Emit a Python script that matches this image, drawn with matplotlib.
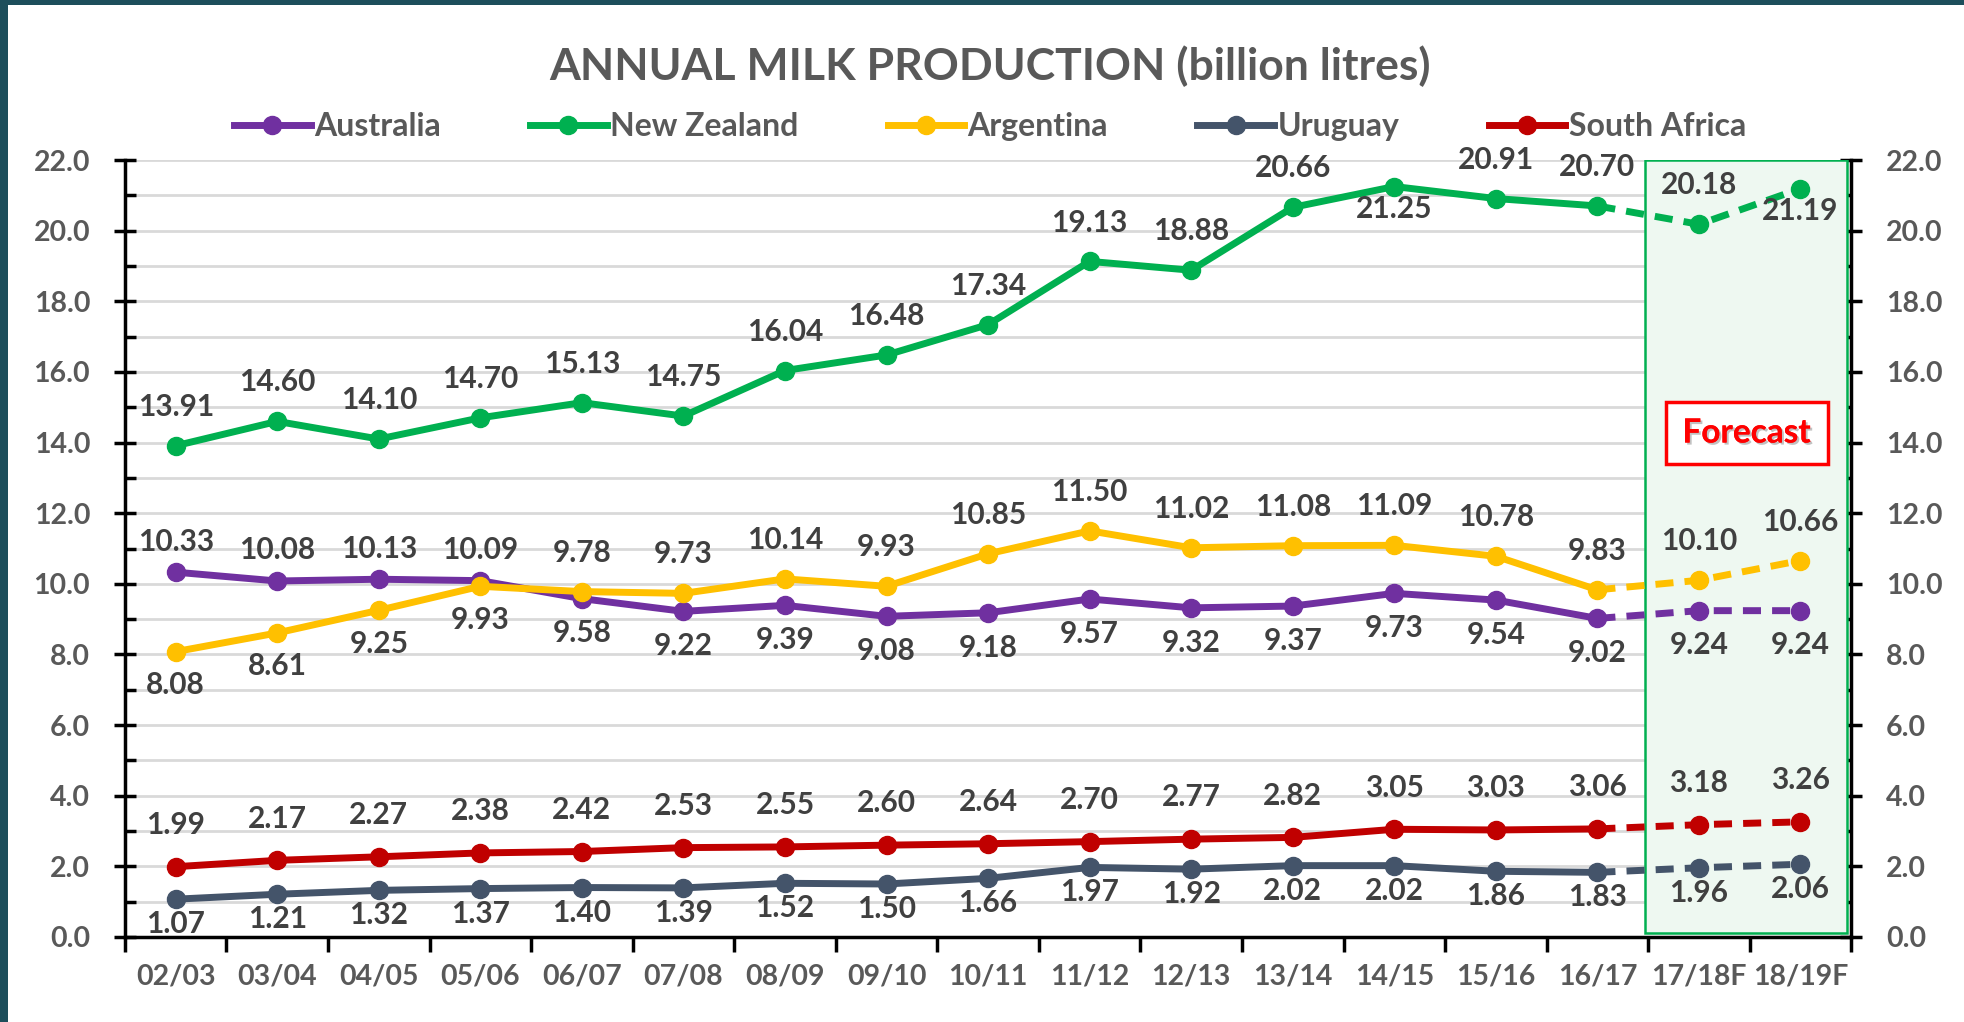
import matplotlib
matplotlib.use('Agg')
import matplotlib.pyplot as plt
from matplotlib.patches import Rectangle
from matplotlib.lines import Line2D
import matplotlib.patheffects as pe

plt.rcParams['font.family'] = ['Lato', 'DejaVu Sans']

seasons = ['02/03', '03/04', '04/05', '05/06', '06/07', '07/08', '08/09', '09/10',
           '10/11', '11/12', '12/13', '13/14', '14/15', '15/16', '16/17', '17/18F', '18/19F']

australia = [10.33, 10.08, 10.13, 10.09, 9.58, 9.22, 9.39, 9.08, 9.18, 9.57, 9.32,
             9.37, 9.73, 9.54, 9.02, 9.24, 9.24]
new_zealand = [13.91, 14.60, 14.10, 14.70, 15.13, 14.75, 16.04, 16.48, 17.34, 19.13,
               18.88, 20.66, 21.25, 20.91, 20.70, 20.18, 21.19]
argentina = [8.08, 8.61, 9.25, 9.93, 9.78, 9.73, 10.14, 9.93, 10.85, 11.50, 11.02,
             11.08, 11.09, 10.78, 9.83, 10.10, 10.66]
uruguay = [1.07, 1.21, 1.32, 1.37, 1.40, 1.39, 1.52, 1.50, 1.66, 1.97, 1.92, 2.02,
           2.02, 1.86, 1.83, 1.96, 2.06]
south_africa = [1.99, 2.17, 2.27, 2.38, 2.42, 2.53, 2.55, 2.60, 2.64, 2.70, 2.77,
                2.82, 3.05, 3.03, 3.06, 3.18, 3.26]

# label side for each point: 1 above, -1 below
aus_side = [1, 1, 1, 1] + [-1] * 13
nz_side = [1] * 12 + [-1] + [1] * 3 + [-1]
arg_side = [-1, -1, -1, -1] + [1] * 13
uru_side = [-1] * 17
sa_side = [1] * 17

# name, values, colour, sides, (offset above, offset below) in points
series = [
    ('Australia', australia, '#7030A0', aus_side, (22, 25)),
    ('New Zealand', new_zealand, '#00B050', nz_side, (28, 16)),
    ('Argentina', argentina, '#FFC000', arg_side, (28, 24)),
    ('Uruguay', uruguay, '#44546A', uru_side, (20, 18)),
    ('South Africa', south_africa, '#C00000', sa_side, (30, 25)),
]

n_actual = 15  # last actual season is 16/17
gray = '#595959'
label_col = '#404040'

fig = plt.figure(figsize=(19.64, 10.22), dpi=100)
ax = fig.add_axes([0.0636, 0.0832, 0.879, 0.7602])

# forecast shading
ax.add_patch(Rectangle((14.47, 0.1), 1.99, 21.9, facecolor='#EEF8F1',
                       edgecolor='#00B050', lw=1.8, zorder=1))

x = list(range(len(seasons)))
handles = []
for name, vals, col, side, offs in series:
    ax.plot(x[:n_actual], vals[:n_actual], color=col, lw=5, marker='o', ms=13,
            solid_capstyle='round', zorder=3)
    ax.plot(x[n_actual - 1:], vals[n_actual - 1:], color=col, lw=5, ls=(0, (2.6, 1.6)),
            marker='o', ms=13, markevery=[1, 2], zorder=3)
    for i, v in enumerate(vals):
        dy = offs[0] if side[i] > 0 else -offs[1]
        ax.annotate('%.2f' % v, (i, v), xytext=(0, dy), textcoords='offset points',
                    ha='center', va='center', fontsize=21.5, fontweight='bold',
                    color=label_col, zorder=4)
    handles.append(Line2D([], [], color=col, lw=5, marker='o', ms=13))

ax.set_xlim(-0.5, 16.5)
ax.set_ylim(0, 22)
ax.set_xticks([i - 0.5 for i in range(18)])
ax.set_xticklabels([])
ax.set_xticks(x, minor=True)
ax.set_xticklabels(seasons, minor=True)
ax.tick_params(axis='x', which='major', direction='out', length=11, width=2.5)
ax.tick_params(axis='x', which='minor', length=0, pad=19, labelsize=20.5,
               labelcolor=gray)

ax.set_yticks(range(0, 23, 2))
ax.set_yticklabels(['%.1f' % v for v in range(0, 23, 2)])
ax.set_yticks(range(1, 22, 2), minor=True)
ax.tick_params(axis='y', which='major', direction='inout', length=16, width=2.5,
               labelsize=20.5, labelcolor=gray, left=True, right=True,
               labelleft=True, labelright=True, pad=17)
ax.tick_params(axis='y', which='minor', direction='in', length=8, width=2.5,
               left=True, right=True)
for lab in ax.get_xticklabels(minor=True) + ax.get_yticklabels():
    lab.set_fontweight('bold')

ax.yaxis.grid(True, which='both', color='#D9D9D9', lw=2, zorder=0)
ax.set_axisbelow(True)
ax.spines['top'].set_visible(False)
for s in ['left', 'right', 'bottom']:
    ax.spines[s].set_linewidth(2.5)
    ax.spines[s].set_color('black')

ax.text(15.47, 14.27, 'Forecast', ha='center', va='center', fontsize=24,
        fontweight='bold', color='#FF0000', zorder=5,
        path_effects=[pe.withSimplePatchShadow(offset=(1.5, -1.5), shadow_rgbFace='#999999', alpha=0.6), pe.Normal()],
        bbox=dict(boxstyle='square,pad=0.5', facecolor='white', edgecolor='#FF0000', lw=2.5))

fig.text(0.504, 0.935, 'ANNUAL MILK PRODUCTION (billion litres)', ha='center',
         va='center', fontsize=32, fontweight='bold', color=gray)

leg = fig.legend(handles, [s[0] for s in series], loc='center', ncol=5,
                 bbox_to_anchor=(0.504, 0.876), frameon=False, fontsize=23,
                 handlelength=2.4, handletextpad=0.1, columnspacing=2.8)
for t in leg.get_texts():
    t.set_color(gray)
    t.set_fontweight('bold')

# slide border strips
fig.patches.append(Rectangle((0, 0), 0.004, 1, transform=fig.transFigure,
                             facecolor='#1D4E5B', edgecolor='none'))
fig.patches.append(Rectangle((0, 0.995), 1, 0.005, transform=fig.transFigure,
                             facecolor='#1D4E5B', edgecolor='none'))

fig.savefig('out.png', dpi=100)
